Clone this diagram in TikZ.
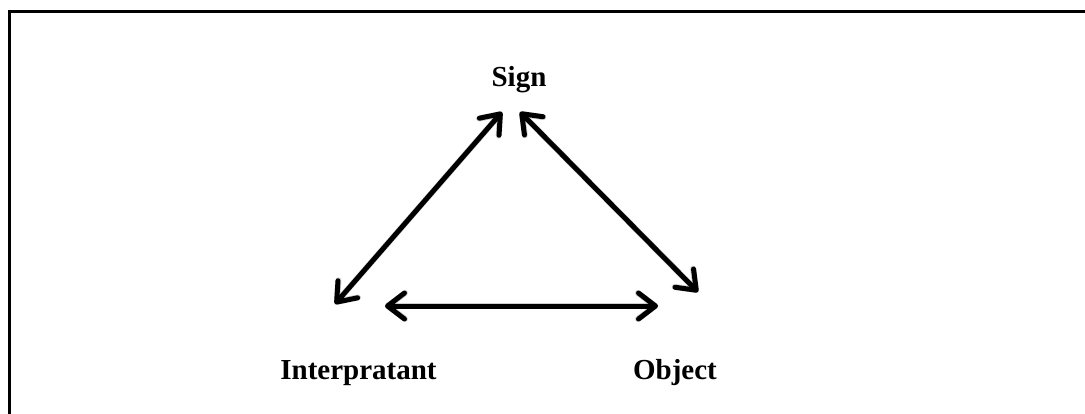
\documentclass[tikz,border=0pt]{standalone}
\usepackage{fontspec}
\setmainfont{Liberation Serif}
\usetikzlibrary{arrows.meta}
\begin{document}
\begin{tikzpicture}[x=1pt,y=-1pt,
  lbl/.style={font=\fontsize{29}{34}\selectfont\bfseries, inner sep=0pt, anchor=base},
  dblarrow/.style={line width=5pt, {Straight Barb[length=17pt,width=26pt,round]}-{Straight Barb[length=17pt,width=26pt,round]}},
  shadowline/.style={line width=6pt, black, opacity=0.18, {Straight Barb[length=17pt,width=26pt,round]}-{Straight Barb[length=17pt,width=26pt,round]}},
  framestroke/.style={line width=2.6pt}]
\useasboundingbox (0,0) rectangle (1085,413);
\draw[framestroke] (9.3,420) -- (9.3,11.3) -- (1090,11.3);
\node[lbl] (sign) at (519,86) {Sign};
\node[lbl] (interp) at (358.5,379) {Interpratant};
\node[lbl] (object) at (675,379) {Object};
\coordinate (s1) at (502,112);
\coordinate (i1) at (335,304);
\coordinate (s2) at (520,112);
\coordinate (o1) at (698,292);
\coordinate (i2) at (385,306);
\coordinate (o2) at (658,306);
\begin{scope}[shift={(2,3)}]
\draw[shadowline] (s1) -- (i1);
\draw[shadowline] (s2) -- (o1);
\draw[shadowline] (i2) -- (o2);
\end{scope}
\draw[dblarrow] (s1) -- (i1);
\draw[dblarrow] (s2) -- (o1);
\draw[dblarrow] (i2) -- (o2);
\end{tikzpicture}
\end{document}
